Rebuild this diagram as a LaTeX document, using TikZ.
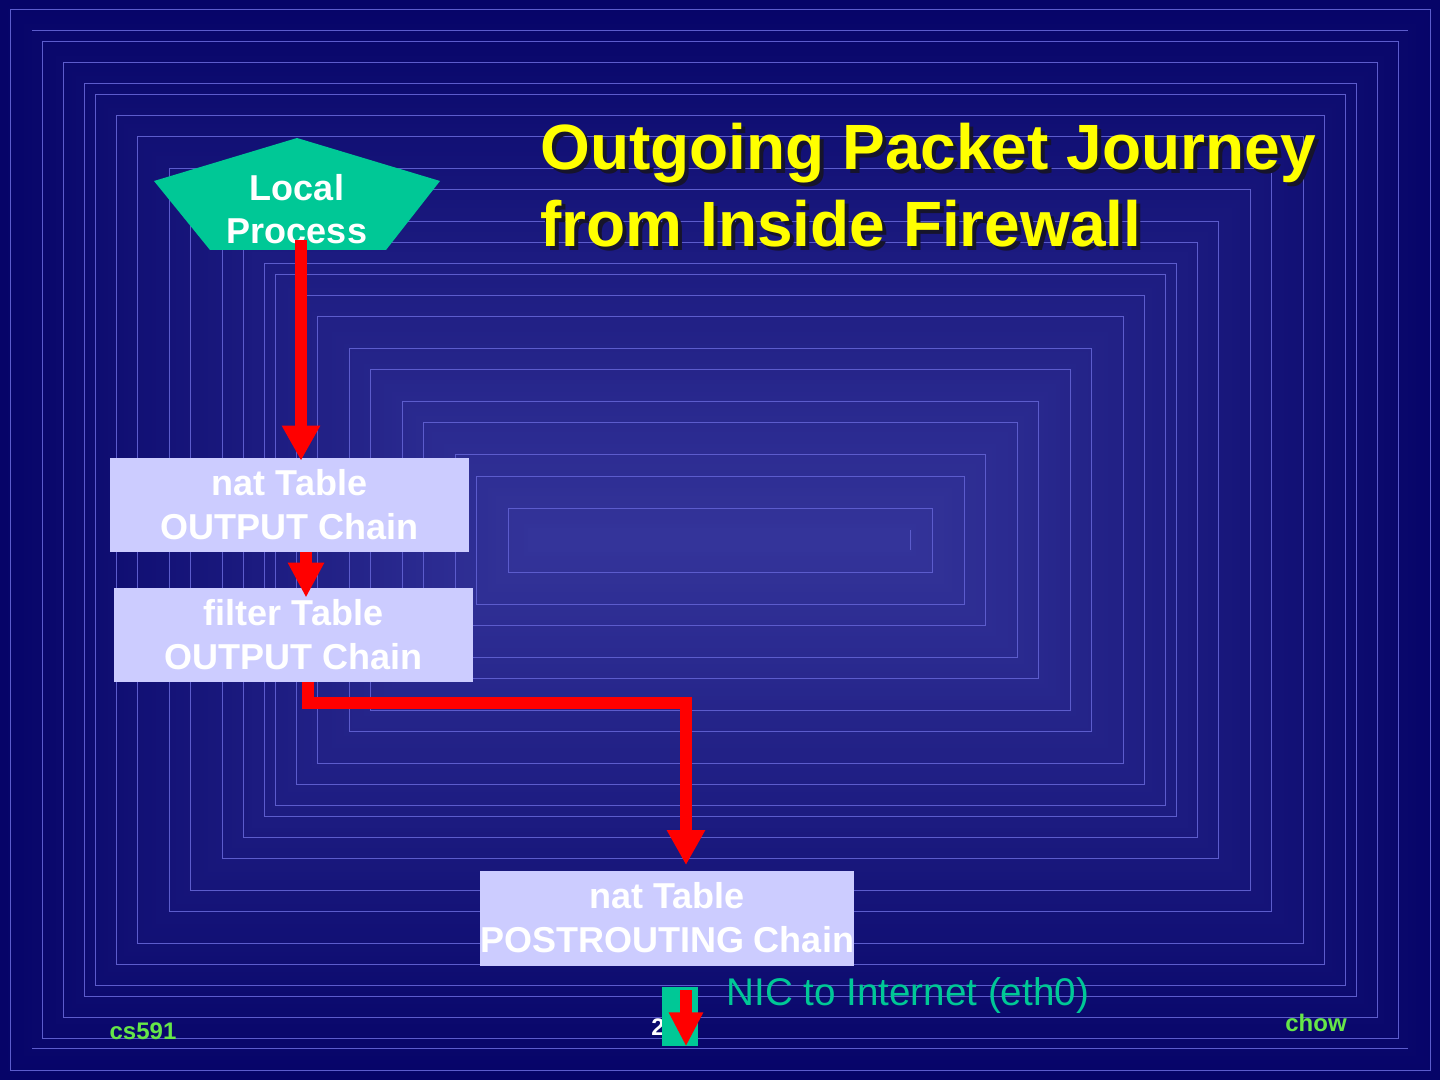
\documentclass[tikz,border=0pt]{standalone}
\usepackage{fontspec}
\setmainfont{Liberation Sans}
\usepackage{tikz}
\usetikzlibrary{arrows.meta}
\usetikzlibrary{calc}
\usetikzlibrary{positioning}

\definecolor{bgout}{RGB}{6,4,104}
\definecolor{bgin}{RGB}{52,52,154}
\definecolor{frameline}{RGB}{92,92,204}
\definecolor{procgreen}{RGB}{0,200,150}
\definecolor{chainfill}{RGB}{204,204,255}
\definecolor{titleyellow}{RGB}{255,255,0}
\definecolor{titleshadow}{RGB}{22,20,44}
\definecolor{footgreen}{RGB}{102,230,72}

\begin{document}
\begin{tikzpicture}[x=0.5pt,y=-0.5pt,
		chainbox/.style={fill=chainfill, text=white, font=\bfseries\fontsize{18}{22}\selectfont, align=center, minimum width=179.5pt, minimum height=47pt, inner sep=0pt},
		packet/.style={draw=red, line width=6pt, -{Triangle[length=17.5pt,width=18pt]}},
		headline/.style={anchor=base west, font=\bfseries\fontsize{32}{38}\selectfont, inner sep=0pt},
		footer/.style={text=footgreen, font=\bfseries\fontsize{12}{14}\selectfont, inner sep=0pt}]
		\useasboundingbox (0,0) rectangle (1440,1080);
		
		% background: rectangular gradient, light in the middle
		\foreach \d in {0,4,...,532} {
			\pgfmathtruncatemacro{\pct}{\d/5.32}
			\fill[bgin!\pct!bgout] (\d,\d) rectangle (1440-\d,1080-\d);
		}
		\foreach \d in {10,42,63,84,95,116,137,169,190,222,243,264,275,296,317,349,370,402,423,455,476,508}
			\draw[frameline, line width=0.5pt] (\d,\d) rectangle (1440-\d,1080-\d);
		\draw[frameline, line width=0.5pt] (32,31) -- (1408,31);
		\draw[frameline, line width=0.5pt] (32,1048) -- (1408,1048);
		\draw[frameline, line width=0.5pt] (910,530) -- (910,550);
		
		% title with shadow
		\node[headline, text=titleshadow] (tsh1) at (544,174) {Outgoing Packet Journey};
		\node[headline, text=titleshadow] (tsh2) at (544,251) {from Inside Firewall};
		\node[headline, text=titleyellow] (title1) at (540,170) {Outgoing Packet Journey};
		\node[headline, text=titleyellow] (title2) at (540,247) {from Inside Firewall};
		
		% local process
		\fill[procgreen] (297,138) -- (440,181) -- (386,250) -- (210,250) -- (154,181) -- cycle;
		\node[text=white, font=\bfseries\fontsize{18}{21.5}\selectfont, align=center, inner sep=0pt] (lp) at (297,209) {Local\\Process};
		\coordinate (lptail) at (301,240);
		
		% chains
		\node[chainbox] (natout) at (289.5,505) {nat Table\\OUTPUT Chain};
		\node[chainbox] (filterout) at (293.5,635) {filter Table\\OUTPUT Chain};
		\node[chainbox, minimum width=187pt, minimum height=47.5pt] (natpost) at (667,918) {nat Table\\POSTROUTING Chain};
		
		% page number, partly hidden
		\node[text=white, font=\bfseries\fontsize{12}{14}\selectfont, inner sep=0pt] (pagenum) at (658,1027) {2};
		
		% nic
		\node[fill=procgreen, minimum width=18pt, minimum height=29.5pt, inner sep=0pt] (nic) at (680,1016.5) {};
		\node[anchor=west, text=procgreen, font=\fontsize{19.3}{23}\selectfont, inner sep=0pt] (niclabel) at (726,996) {NIC to Internet (eth0)};
		
		% packet path
		\draw[packet] (lptail) -- ($(lptail |- natout.north)+(0,3)$);
		\coordinate (t2) at (306,552);
		\draw[packet, -{Triangle[length=17.5pt,width=17pt]}] (t2) -- ($(t2 |- filterout.north)+(0,10)$);
		\coordinate (t3) at (308,682);
		\coordinate (bend) at (686,703);
		\draw[packet] (t3) |- (bend) -- ($(bend |- natpost.north)+(0,-5)$);
		\coordinate (t4) at (686,990);
		\draw[packet, -{Triangle[length=17pt,width=16pt]}] (t4) -- (t4 |- nic.south);
		
		% footer
		\node[footer] (course) at (143,1031) {cs591};
		\node[footer] (author) at (1316,1023) {chow};
	\end{tikzpicture}
\end{document}
